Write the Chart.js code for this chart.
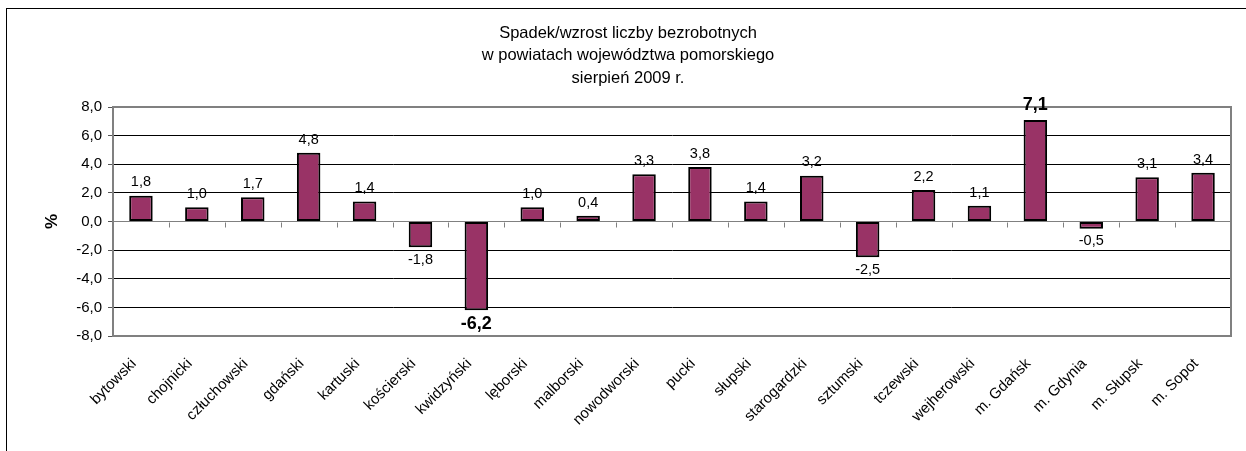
<!DOCTYPE html>
<html>
<head>
<meta charset="utf-8">
<script src="https://cdn.jsdelivr.net/npm/chart.js@4/dist/chart.umd.min.js"></script>
<style>
  html, body { margin: 0; padding: 0; background: #fff; overflow: hidden; }
  #wrap { width: 1256px; height: 451px; }
</style>
</head>
<body>
<div id="wrap"><canvas id="bezrobotniChart" width="1256" height="451"></canvas></div>
<script>
// powiaty
const powiaty = ['bytowski', 'chojnicki', 'człuchowski', 'gdański', 'kartuski', 'kościerski', 'kwidzyński',
    'lęborski', 'malborski', 'nowodworski', 'pucki', 'słupski', 'starogardzki', 'sztumski', 'tczewski',
    'wejherowski', 'm. Gdańsk', 'm. Gdynia', 'm. Słupsk', 'm. Sopot'];
// spadek/wzrost w %
const zmiana = [1.8, 1.0, 1.7, 4.8, 1.4, -1.8, -6.2, 1.0, 0.4, 3.3, 3.8, 1.4, 3.2, -2.5, 2.2, 1.1, 7.1, -0.5, 3.1, 3.4];
const tytul = ['Spadek/wzrost liczby bezrobotnych', 'w powiatach województwa pomorskiego', 'sierpień 2009 r.'];
const osY = { min: -8, max: 8, krok: 2 };

const FONT = '"Liberation Sans", Arial, sans-serif';
const fmt = v => v.toFixed(1).replace('.', ',');

const dekoracje = {
    id: 'dekoracje',
    beforeDraw(chart) {
        const ctx = chart.ctx;
        ctx.save();
        ctx.fillStyle = '#fff';
        ctx.fillRect(0, 0, chart.width, chart.height);
        // ramka wykresu
        ctx.strokeStyle = '#000';
        ctx.lineWidth = 1;
        ctx.strokeRect(6.5, 8.5, 1244, 460);
        // tytul
        ctx.fillStyle = '#000';
        ctx.font = '16.5px ' + FONT;
        ctx.textAlign = 'center';
        ctx.textBaseline = 'middle';
        tytul.forEach((t, i) => ctx.fillText(t, chart.width / 2, 33 + i * 22.5));
        ctx.restore();
    },
    beforeDatasetsDraw(chart) {
        const ctx = chart.ctx;
        const a = chart.chartArea;
        const x = chart.scales.x, y = chart.scales.y;
        const y0 = Math.round(y.getPixelForValue(0)) + 0.5;
        ctx.save();
        ctx.strokeStyle = '#808080';
        ctx.lineWidth = 2;
        ctx.strokeRect(a.left, a.top, a.right - a.left, a.bottom - a.top);
        // znaczniki osi X na linii zera
        ctx.lineWidth = 1;
        ctx.beginPath();
        for (let i = 0; i <= powiaty.length; i++) {
            let px;
            if (i === 0) px = a.left;
            else if (i === powiaty.length) px = a.right;
            else px = (x.getPixelForValue(i - 1) + x.getPixelForValue(i)) / 2;
            px = Math.round(px) + 0.5;
            ctx.moveTo(px, y0);
            ctx.lineTo(px, y0 + 5);
        }
        ctx.stroke();
        ctx.restore();
    },
    afterDatasetsDraw(chart) {
        const ctx = chart.ctx;
        const meta = chart.getDatasetMeta(0);
        const maks = Math.max(...zmiana), mini = Math.min(...zmiana);
        ctx.save();
        ctx.fillStyle = '#000';
        ctx.textAlign = 'center';
        meta.data.forEach((bar, i) => {
            const v = zmiana[i];
            const wyroznij = v === maks || v === mini;
            ctx.font = (wyroznij ? 'bold 18px ' : '14.5px ') + FONT;
            if (v >= 0) {
                ctx.textBaseline = 'bottom';
                ctx.fillText(fmt(v), bar.x, bar.y - 6);
            } else {
                ctx.textBaseline = 'top';
                ctx.fillText(fmt(v), bar.x, bar.y + 5);
            }
        });
        ctx.restore();
    }
};

const ctx = document.getElementById('bezrobotniChart').getContext('2d');
new Chart(ctx, {
    type: 'bar',
    data: {
        labels: powiaty,
        datasets: [{
            data: zmiana,
            backgroundColor: '#993366',
            borderColor: '#000',
            borderWidth: 2,
            borderSkipped: false,
            categoryPercentage: 1,
            barPercentage: 0.42
        }]
    },
    options: {
        responsive: false,
        animation: false,
        devicePixelRatio: 1,
        layout: { padding: { top: 107, right: 25, bottom: 0, left: 0 } },
        plugins: {
            legend: { display: false },
            title: { display: false },
            tooltip: { enabled: false }
        },
        scales: {
            x: {
                grid: { display: false, drawTicks: false },
                border: { display: false },
                ticks: {
                    color: '#000',
                    font: { family: FONT, size: 15 },
                    minRotation: 45,
                    maxRotation: 45,
                    padding: 19,
                    labelOffset: -7,
                    autoSkip: false
                },
                afterFit(scale) { scale.height = 115; }
            },
            y: {
                min: osY.min,
                max: osY.max,
                ticks: {
                    stepSize: osY.krok,
                    color: '#000',
                    font: { family: FONT, size: 15 },
                    padding: 6,
                    callback: v => fmt(v)
                },
                grid: {
                    color: c => c.tick && c.tick.value === 0 ? '#808080' : '#000',
                    tickColor: '#555',
                    tickLength: 5,
                    lineWidth: 1
                },
                border: { color: '#666', width: 2 },
                title: {
                    display: true,
                    text: '%',
                    color: '#000',
                    font: { family: FONT, size: 17, weight: 'bold' },
                    padding: { top: 42, bottom: 0 }
                },
                afterFit(scale) { scale.width = 113; }
            }
        }
    },
    plugins: [dekoracje]
});
</script>
</body>
</html>
